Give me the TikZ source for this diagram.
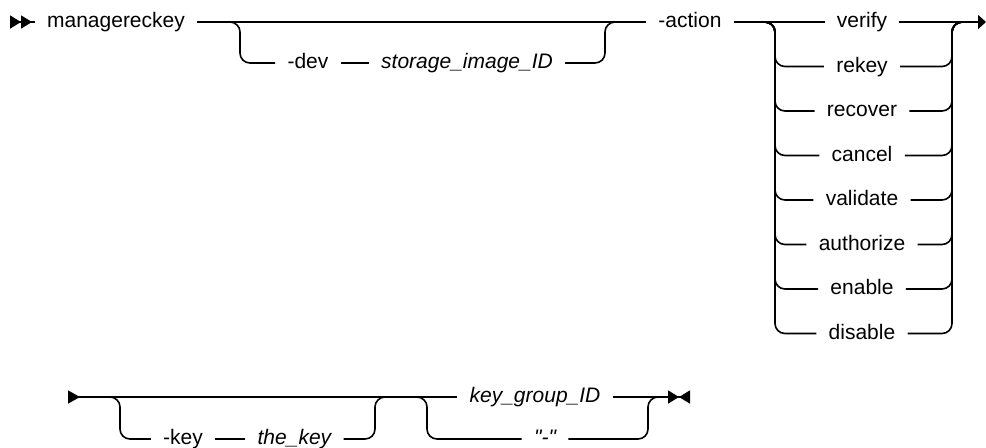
\documentclass[tikz,border=0pt]{standalone}
\usepackage{fontspec}
\setmainfont{Liberation Sans}
\usetikzlibrary{positioning, arrows.meta}
\tikzset{
    rail/.style={
        line width=0.8pt, draw=black
    },
    branch/.style={
        rail, rounded corners=5pt
    },
    kw/.style={
        font=\fontsize{10.5}{12}\selectfont, inner xsep=6pt, inner ysep=1pt,
        text height=7.5pt, text depth=2pt
    },
    var/.style={
        kw, font=\fontsize{10.5}{12}\selectfont\itshape
    },
    startmark/.style={
        {Triangle[reversed, length=5.5pt, width=6.5pt, sep=0pt]Triangle[reversed, length=5.5pt, width=6.5pt, sep=0pt]}-
    },
    contin/.style={
        -{Triangle[length=4pt, width=7pt]}
    },
    contstart/.style={
        {Triangle[reversed, length=6pt, width=6.5pt]}-
    },
    endmark/.style={
        -{Triangle[length=5.5pt, width=6.5pt, sep=0pt]Triangle[reversed, length=5.5pt, width=6.5pt, sep=0pt]}
    },
}
\begin{document}
\begin{tikzpicture}[x=0.5pt, y=-0.5pt]
\useasboundingbox (0,0) rectangle (986,447);

% ============================================================
%  Row 1: command, optional device, action choice
% ============================================================
\coordinate (start1) at (10,22);
\node[kw] (cmd) at (116,22) {managereckey};
\node[kw] (dev) at (308,63) {-dev};
\node[var, right=14pt of dev] (imgid) {storage\_image\_ID};
\node[kw] (action) at (690,22) {-action};

% choice stack for the action, all centred on one column
\node[kw] (verify)    at (862,22)    {verify};
\node[kw] (rekey)     at (862,66.5)  {rekey};
\node[kw] (recover)   at (862,111)   {recover};
\node[kw] (cancel)    at (862,155.5) {cancel};
\node[kw] (validate)  at (862,200)   {validate};
\node[kw] (authorize) at (862,244.5) {authorize};
\node[kw] (enable)    at (862,289)   {enable};
\node[kw] (disable)   at (862,333.5) {disable};

% split and join points of the two loops
\coordinate (devsplit) at (228,22);
\coordinate (devdown)  at (240,22);
\coordinate (devup)    at (605,22);
\coordinate (devjoin)  at (617,22);
\coordinate (actsplit) at (763,22);
\coordinate (actdown)  at (775,22);
\coordinate (actup)    at (952,22);
\coordinate (actjoin)  at (964,22);
\coordinate (end1)     at (986,22);

% main line
\draw[rail, startmark] (start1) -- (cmd);
\draw[rail] (cmd) -- (action);
\draw[rail] (action) -- (verify);
\draw[rail, contin] (verify) -- (end1);

% optional -dev loop
\draw[branch] (devsplit) -- (devdown) |- (dev);
\draw[rail] (dev) -- (imgid);
\draw[branch] (imgid) -| (devup) -- (devjoin);

% action alternatives
\draw[branch] (actsplit) -- (actdown) |- (rekey);
\draw[branch] (rekey) -| (actup) -- (actjoin);
\draw[branch] (actsplit) -- (actdown) |- (recover);
\draw[branch] (recover) -| (actup) -- (actjoin);
\draw[branch] (actsplit) -- (actdown) |- (cancel);
\draw[branch] (cancel) -| (actup) -- (actjoin);
\draw[branch] (actsplit) -- (actdown) |- (validate);
\draw[branch] (validate) -| (actup) -- (actjoin);
\draw[branch] (actsplit) -- (actdown) |- (authorize);
\draw[branch] (authorize) -| (actup) -- (actjoin);
\draw[branch] (actsplit) -- (actdown) |- (enable);
\draw[branch] (enable) -| (actup) -- (actjoin);
\draw[branch] (actsplit) -- (actdown) |- (disable);
\draw[branch] (disable) -| (actup) -- (actjoin);

% ============================================================
%  Row 2: optional key, key group choice
% ============================================================
\coordinate (start2) at (68,397);
\node[kw] (key) at (183,439) {-key};
\node[var, right=15pt of key] (thekey) {the\_key};
\node[var] (kgid) at (535,397) {key\_group\_ID};
\node[var] (dash) at (545,439) {\textquotedbl-\textquotedbl};

\coordinate (keysplit) at (108,397);
\coordinate (keydown)  at (120,397);
\coordinate (keyup)    at (375,397);
\coordinate (keyjoin)  at (387,397);
\coordinate (kgsplit)  at (415,397);
\coordinate (kgdown)   at (427,397);
\coordinate (kgup)     at (648,397);
\coordinate (kgjoin)   at (660,397);
\coordinate (end2)     at (690,397);

\draw[rail, contstart] (start2) -- (kgid);
\draw[rail, endmark] (kgid) -- (end2);

\draw[branch] (keysplit) -- (keydown) |- (key);
\draw[rail] (key) -- (thekey);
\draw[branch] (thekey) -| (keyup) -- (keyjoin);

\draw[branch] (kgsplit) -- (kgdown) |- (dash);
\draw[branch] (dash) -| (kgup) -- (kgjoin);

\end{tikzpicture}
\end{document}
